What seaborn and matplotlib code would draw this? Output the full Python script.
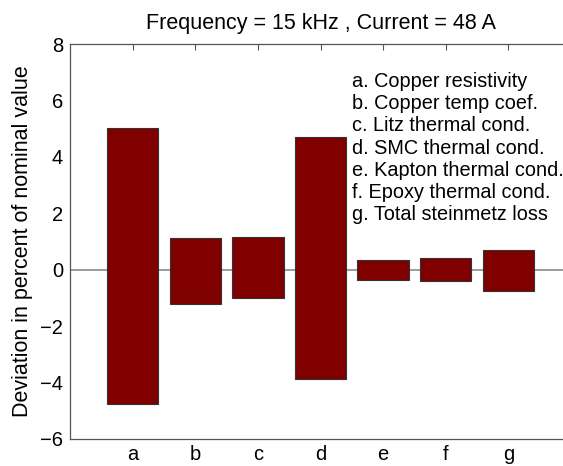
import matplotlib
matplotlib.use("Agg")
import matplotlib.pyplot as plt
import seaborn as sns
import numpy as np
import pandas as pd

categories = ["a", "b", "c", "d", "e", "f", "g"]
upper_dev = [5.04, 1.14, 1.17, 4.70, 0.36, 0.42, 0.71]
lower_dev = [-4.77, -1.21, -1.01, -3.87, -0.35, -0.40, -0.77]
legend_lines = [
    "a. Copper resistivity",
    "b. Copper temp coef.",
    "c. Litz thermal cond.",
    "d. SMC thermal cond.",
    "e. Kapton thermal cond.",
    "f. Epoxy thermal cond.",
    "g. Total steinmetz loss",
]
title = "Frequency = 15 kHz , Current = 48 A"
ylabel = "Deviation in percent of nominal value"
yticks = [-6, -4, -2, 0, 2, 4, 6, 8]

sns.set_theme(style="white")
plt.rcParams["font.family"] = ["Liberation Sans", "DejaVu Sans"]
plt.rcParams["text.color"] = "black"
plt.rcParams["xtick.color"] = "black"
plt.rcParams["ytick.color"] = "black"

df = pd.DataFrame({
    "cat": categories,
    "span": np.array(upper_dev) - np.array(lower_dev),
    "low": lower_dev,
})

fig = plt.figure(figsize=(5.63, 4.66), dpi=100)
ax = fig.add_axes([70 / 563, 1 - 439 / 466, 501 / 563, 395 / 466])

ax.axhline(0, color="#8c8c8c", lw=1.2, zorder=1)
sns.barplot(data=df, x="cat", y="span", bottom=df["low"].values, ax=ax,
            color="#800000", saturation=1, width=0.82,
            edgecolor="#333333", linewidth=0.8, zorder=2)

ax.set_xlim(-1, 7)
ax.set_ylim(-6, 8)
ax.set_yticks(yticks)
ax.set_yticklabels([str(t).replace("-", "\u2212") for t in yticks])
ax.set_xlabel("")
ax.set_ylabel(ylabel, fontsize=15.5, labelpad=5, color="black")
ax.set_title(title, fontsize=15.5, pad=11, color="black")
ax.tick_params(axis="both", direction="in", length=4, width=0.8, color="#555555",
               labelsize=14.5, labelcolor="black", top=True, right=True, pad=5)
ax.tick_params(axis="x", pad=4.5)
for s in ax.spines.values():
    s.set_visible(True)
    s.set_color("#555555")
    s.set_linewidth(0.9)

ax_h_px = 395.0
for i, line in enumerate(legend_lines):
    y_px = 87 + i * 22.2  # baseline in figure pixels from top
    y_ax = (439 - y_px) / ax_h_px
    ax.text((352 - 70) / 501, y_ax, line, transform=ax.transAxes,
            fontsize=14.3, ha="left", va="baseline", color="black")

fig.savefig("out.png", dpi=100)
